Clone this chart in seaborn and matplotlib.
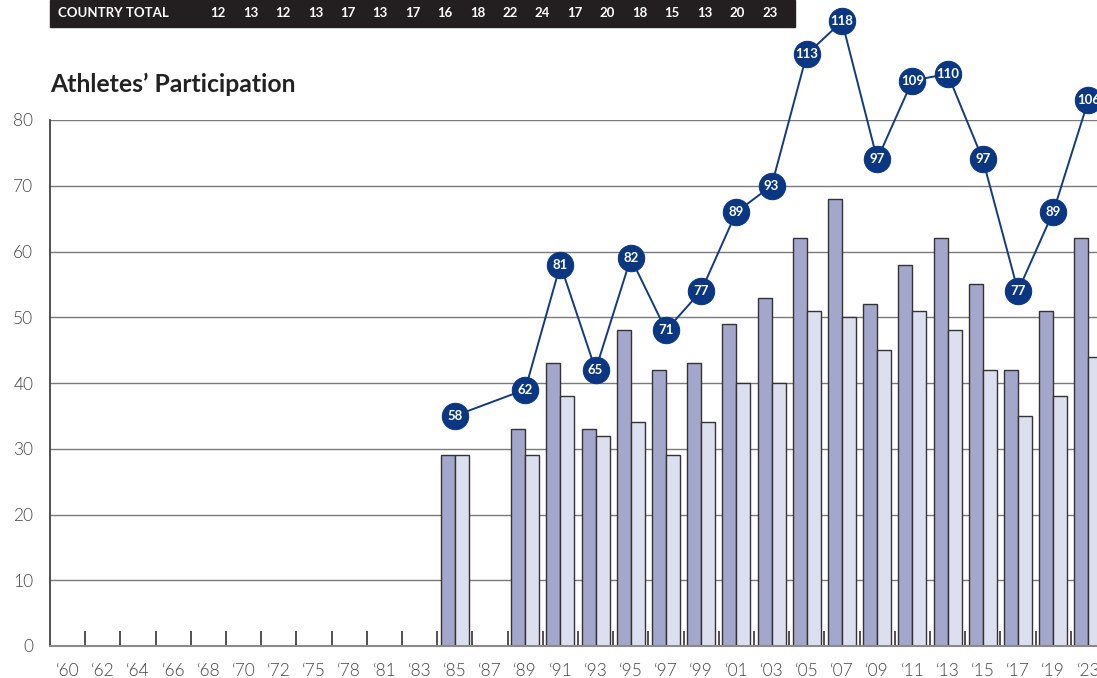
import numpy as np
import pandas as pd
import matplotlib.pyplot as plt
import seaborn as sns
from matplotlib.patches import Rectangle
from matplotlib.ticker import FixedLocator

# data
years = ["\u201860", "\u201862", "\u201864", "\u201866", "\u201868", "\u201870", "\u201872",
         "\u201875", "\u201878", "\u201881", "\u201883", "\u201885", "\u201887", "\u201889",
         "\u201891", "\u201893", "\u201895", "\u201897", "\u201899", "\u201801", "\u201803",
         "\u201805", "\u201807", "\u201809", "\u201811", "\u201813", "\u201815", "\u201817",
         "\u201819", "\u201823"]
nan = np.nan
men = [nan] * 11 + [29, nan, 33, 43, 33, 48, 42, 43, 49, 53, 62, 68, 52, 58, 62, 55, 42, 51, 62]
women = [nan] * 11 + [29, nan, 29, 38, 32, 34, 29, 34, 40, 40, 51, 50, 45, 51, 48, 42, 35, 38, 44]
total_years = ["\u201885", "\u201889", "\u201891", "\u201893", "\u201895", "\u201897", "\u201899",
               "\u201801", "\u201803", "\u201805", "\u201807", "\u201809", "\u201811", "\u201813",
               "\u201815", "\u201817", "\u201819", "\u201823"]
totals = [58, 62, 81, 65, 82, 71, 77, 89, 93, 113, 118, 97, 109, 110, 97, 77, 89, 106]
country_total = [12, 13, 12, 13, 17, 13, 17, 16, 18, 22, 24, 17, 20, 18, 15, 13, 20, 23]

sns.set_theme(style="white")
plt.rcParams['font.family'] = ['Lato', 'DejaVu Sans']

df = pd.DataFrame({
    "year": years * 2,
    "value": men + women,
    "group": ["men"] * len(years) + ["women"] * len(years),
})

fig = plt.figure(figsize=(10.97, 6.78), dpi=100)
ax = fig.add_axes([50 / 1097, 32 / 678, 1056 / 1097, 526 / 678])

sns.barplot(data=df, x="year", y="value", hue="group", order=years,
            palette={"men": "#a3a7cb", "women": "#dcdfed"}, width=0.8,
            edgecolor="#333333", linewidth=1, saturation=1, legend=False, ax=ax)

ax.set_xlim(-0.5, len(years) - 0.5)
ax.set_ylim(0, 80)
ax.set_yticks(range(0, 81, 10))
ax.set_xlabel("")
ax.set_ylabel("")
ax.set_axisbelow(True)
ax.yaxis.grid(True, color="#7a7a7a", lw=1)
ax.xaxis.grid(False)
for s in ["top", "right"]:
    ax.spines[s].set_visible(False)
ax.spines["left"].set_color("#333333")
ax.spines["left"].set_linewidth(1.2)
ax.spines["bottom"].set_color("#8a8a8a")
ax.spines["bottom"].set_linewidth(1.5)

ax.tick_params(axis="x", which="major", length=0, pad=12, labelsize=12.5, labelcolor="#444444")
ax.tick_params(axis="y", which="major", length=0, pad=12, labelsize=12.5, labelcolor="#444444")
ax.xaxis.set_minor_locator(FixedLocator(np.arange(0.5, len(years) - 1, 1)))
ax.tick_params(axis="x", which="minor", bottom=True, direction="in", length=11,
               width=1.2, color="#333333")
for lab in ax.get_xticklabels() + ax.get_yticklabels():
    lab.set_fontweight(300)

# total line on a hidden twin axis
ax2 = ax.twinx()
ax2.set_ylim(23, 103)
ax2.axis("off")
xs = [years.index(y) for y in total_years]
sns.lineplot(x=xs, y=totals, ax=ax2, color="#123a80", lw=1.4, marker="o",
             markersize=19, markerfacecolor="#0b3782", markeredgecolor="#0b3782",
             clip_on=False, zorder=5)
for line in ax2.lines:
    line.set_clip_on(False)
for x, t in zip(xs, totals):
    ax2.text(x, t, str(t), ha="center", va="center", color="white",
             fontsize=9.5, fontweight="bold", zorder=6, clip_on=False)

# title
fig.text(50 / 1097, 1 - 92 / 678, "Athletes\u2019 Participation", fontsize=17.8,
         fontweight="bold", color="#222222", va="baseline", ha="left")

# country total banner
fig.patches.append(Rectangle((50 / 1097, 1 - 27 / 678), 745 / 1097, 27 / 678,
                             transform=fig.transFigure, color="#231f20", zorder=0))
fig.text(58 / 1097, 1 - 13 / 678, "COUNTRY TOTAL", color="white", fontsize=9.5,
         fontweight="bold", va="center", ha="left")
for i, n in enumerate(country_total):
    fig.text((218 + 32.45 * i) / 1097, 1 - 13 / 678, str(n), color="white",
             fontsize=9.5, fontweight="bold", va="center", ha="center")

fig.savefig("out.png", dpi=100)
